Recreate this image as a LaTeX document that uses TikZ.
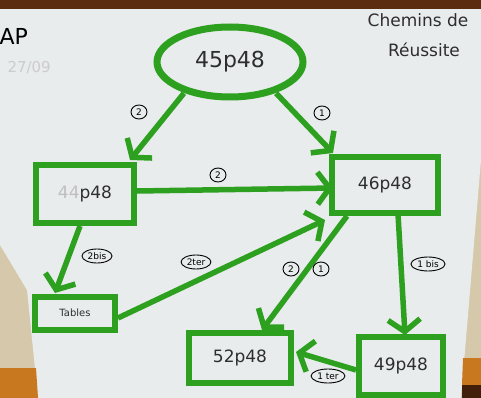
\documentclass[tikz,border=0pt]{standalone}
\usepackage{fontspec}
\setmainfont{DejaVu Sans}
\usetikzlibrary{arrows.meta,shapes.geometric}
\definecolor{gr}{RGB}{46,160,32}
\definecolor{paper}{RGB}{233,236,236}
\definecolor{wall}{RGB}{214,200,170}
\definecolor{wood}{RGB}{92,44,16}
\definecolor{orng}{RGB}{200,120,30}
\definecolor{ink}{RGB}{45,45,50}
\tikzset{
  gbox/.style={draw=gr, line width=6pt, fill=paper, text=ink, font=\fontsize{17}{17}\selectfont, inner sep=0pt},
  garrow/.style={draw=gr, line width=5.5pt, -{Straight Barb[length=12pt,width=32pt]}},
  tag/.style={draw=black, ellipse, line width=0.9pt, inner sep=1.3pt, minimum height=14pt, minimum width=16pt, font=\fontsize{9}{9}\selectfont, text=black},
  hand/.style={text=ink, font=\fontsize{17}{17}\selectfont}
}
\begin{document}
\begin{tikzpicture}[x=1pt,y=-1pt]
\useasboundingbox (0,0) rectangle (481,398);
% background
\fill[wall] (0,0) rectangle (481,398);
\fill[paper] (0,8) -- (481,8) -- (481,160) -- (461,398) -- (38,398) -- (27,290) -- (0,245) -- cycle;
\fill[wood] (0,0) rectangle (481,9);
\fill[orng] (0,368) -- (36,368) -- (38,398) -- (0,398) -- cycle;
\fill[orng] (463,358) -- (481,358) -- (481,385) -- (462,385) -- cycle;
\fill[wood!70!black] (462,385) rectangle (481,398);
% corner texts
\node[text=black, font=\fontsize{22}{22}\selectfont, anchor=west] (ap) at (-4,36) {AP};
\node[text=black!20, font=\fontsize{15}{15}\selectfont, anchor=west] (date) at (4,68) {27/09};
\node[hand] (t1) at (418,20) {Chemins de};
\node[hand] (t2) at (424,50) {Réussite};
% nodes
\node[gbox, ellipse, minimum width=146pt, minimum height=70pt, line width=7pt, font=\fontsize{22}{22}\selectfont] (n45) at (230,62) {45p48};
\node[gbox, minimum width=98pt, minimum height=58pt] (n44) at (85,194) {\textcolor{black!25}{44}p48};
\node[gbox, minimum width=106pt, minimum height=56pt] (n46) at (385,185) {46p48};
\node[gbox, minimum width=80pt, minimum height=33pt, font=\fontsize{10}{10}\selectfont] (tab) at (75,313) {Tables};
\node[gbox, minimum width=102pt, minimum height=50pt] (n52) at (240,358) {52p48};
\node[gbox, minimum width=84pt, minimum height=58pt] (n49) at (401,366) {49p48};
% arrows
\draw[garrow] (n45.south west) ++(8,4) coordinate (a1) -- (130,160) coordinate (a1e);
\draw[garrow] (n45.south east) ++(-8,4) coordinate (b1) -- (333,153) coordinate (b1e);
\draw[garrow] (n44.east) ++(0,-3) coordinate (c1) -- (333,188) coordinate (c1e);
\draw[garrow] (n44.south) ++(-5,0) coordinate (d1) -- (55,293) coordinate (d1e);
\draw[garrow] (tab.east) ++(0,5) coordinate (e1) -- (325,220) coordinate (e1e);
\draw[garrow] (347,216) coordinate (f1) -- (262,330) coordinate (f1e);
\draw[garrow] (398,214) coordinate (g1) -- (405,335) coordinate (g1e);
\draw[garrow] (n49.west) ++(0,4) coordinate (h1) -- (296,352) coordinate (h1e);
% labels
\node[tag] (l1) at (139,112) {2};
\node[tag] (l2) at (322,113) {1};
\node[tag] (l3) at (218,175) {2};
\node[tag] (l4) at (97,256) {2bis};
\node[tag] (l5) at (196,262) {2ter};
\node[tag] (l6) at (291,269) {2};
\node[tag] (l7) at (321,269) {1};
\node[tag] (l8) at (428,264) {1 bis};
\node[tag] (l9) at (328,376) {1 ter};
\end{tikzpicture}
\end{document}
